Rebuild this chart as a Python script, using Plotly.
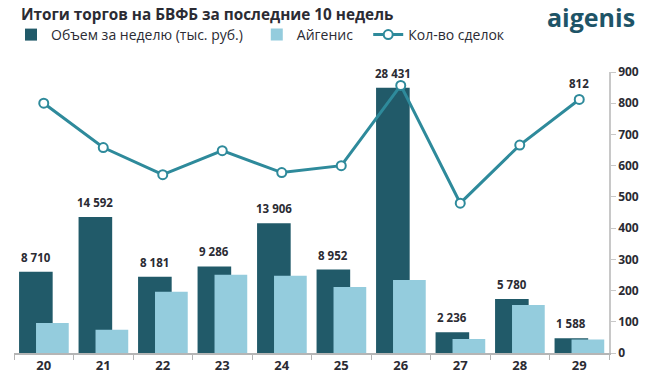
import plotly.graph_objects as go

weeks = ["20", "21", "22", "23", "24", "25", "26", "27", "28", "29"]
volume = [8710, 14592, 8181, 9286, 13906, 8952, 28431, 2236, 5780, 1588]
aigenis = [3230, 2500, 6580, 8380, 8270, 7090, 7840, 1500, 5160, 1450]
deals = [800, 658, 571, 648, 578, 600, 857, 480, 666, 812]

DARK = "#215A69"
LIGHT = "#94CCDD"
LINE = "#2E8A9B"
TXT = "#2B2B33"
FONT = "Open Sans"

W, H = 651, 388
ML, MR, MT, MB = 11, 42, 72, 35
PW, PH = W - ML - MR, H - MT - MB


def px_x(x):
    return (x - ML) / PW


def px_y(y):
    return (H - MB - y) / PH


def fmt(v):
    return f"{v:,}".replace(",", " ")

fig = go.Figure()
fig.add_trace(go.Bar(
    x=weeks, y=volume, name="Объем за неделю (тыс. руб.)",
    marker=dict(color=DARK, line=dict(width=0)),
    offset=-0.415, width=0.565, legend="legend",
))
fig.add_trace(go.Bar(
    x=weeks, y=aigenis, name="Айгенис",
    marker=dict(color=LIGHT, line=dict(width=0)),
    offset=-0.13, width=0.55, legend="legend2",
))
fig.add_trace(go.Scatter(
    x=weeks, y=deals, name="Кол-во сделок", yaxis="y2",
    mode="lines+markers",
    line=dict(color=LINE, width=3),
    marker=dict(size=9, color="white", line=dict(color=LINE, width=2)),
    legend="legend3",
))

annotations = []
for i, v in enumerate(volume):
    annotations.append(dict(
        x=i, y=v, xref="x", yref="y", text=f"<b>{fmt(v)}</b>",
        showarrow=False, yanchor="bottom", xshift=-7.9, yshift=5,
        font=dict(family=FONT, size=11.5, color=TXT),
    ))
annotations.append(dict(
    x=len(deals) - 1, y=deals[-1], xref="x", yref="y2", text=f"<b>{deals[-1]}</b>",
    showarrow=False, yanchor="bottom", yshift=6,
    font=dict(family=FONT, size=11.5, color=TXT),
))
annotations.append(dict(
    x=px_x(16), y=px_y(14), xref="paper", yref="paper",
    text="<b>Итоги торгов на БВФБ за последние 10 недель</b>",
    showarrow=False, xanchor="left", yanchor="middle",
    font=dict(family=FONT, size=15.3, color=TXT),
))
annotations.append(dict(
    x=px_x(637), y=px_y(17), xref="paper", yref="paper",
    text="<b>aigenis</b>",
    showarrow=False, xanchor="right", yanchor="middle",
    font=dict(family=FONT, size=25, color="#1E5467"),
))

leg_common = dict(
    orientation="h", yanchor="middle", xanchor="left",
    font=dict(family=FONT, size=14, color=TXT),
    bgcolor="rgba(0,0,0,0)", itemwidth=30,
)

fig.update_layout(
    width=W, height=H,
    margin=dict(l=ML, r=MR, t=MT, b=MB),
    paper_bgcolor="white", plot_bgcolor="white",
    barmode="overlay",
    showlegend=True,
    legend=dict(x=px_x(8), y=px_y(35), **leg_common),
    legend2=dict(x=px_x(255), y=px_y(35), **leg_common),
    legend3=dict(x=px_x(367), y=px_y(35), **leg_common),
    xaxis=dict(
        type="category", tickson="boundaries",
        showline=True, linecolor="#B5B5B5", linewidth=1.5,
        ticks="outside", ticklen=5, tickcolor="#B5B5B5",
        tickfont=dict(family=FONT, size=13, color=TXT, weight="bold"),
        showgrid=False, range=[-0.5, 9.5],
    ),
    yaxis=dict(
        range=[0, 30130], visible=False, showgrid=False,
    ),
    yaxis2=dict(
        overlaying="y", side="right", range=[0, 900], dtick=100,
        showline=True, linecolor="#C8C8C8", linewidth=1.5,
        ticks="outside", ticklen=5, tickcolor="#C8C8C8",
        tickfont=dict(family=FONT, size=12, color=TXT, weight="bold"),
        showgrid=False, zeroline=False,
    ),
    annotations=annotations,
    font=dict(family=FONT, color=TXT),
)

fig.write_html(
    "out.html",
    config={"displayModeBar": False},
    post_script="document.body.style.margin='0';",
)
